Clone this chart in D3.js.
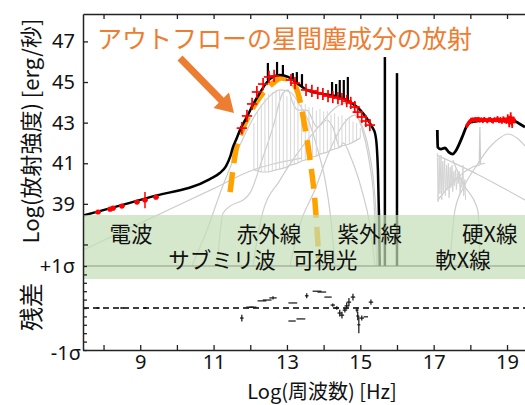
<!DOCTYPE html>
<html>
<head>
<meta charset="utf-8">
<script src="https://cdn.jsdelivr.net/npm/d3@7"></script>
<style>
  body { margin: 0; background: #fff; }
  svg { display: block; }
  text { font-family: 'Noto Sans', 'Noto Sans CJK JP', sans-serif; }
  .jp { font-family: 'Noto Sans CJK JP', 'Noto Sans', sans-serif; }
</style>
</head>
<body>
<svg id="chart" width="525" height="405"></svg>
<script>
// ---- axis ticks -------------------------------------------------------
const xTicks = [8, 9, 10, 11, 12, 13, 14, 15, 16, 17, 18, 19];
const xLabeled = [9, 11, 13, 15, 17, 19];
const yTicks = [37, 39, 41, 43, 45, 47];
const yLabeled = [39, 41, 43, 45, 47];
const resTicks = [-1, -0.8, -0.6, -0.4, -0.2, 0, 0.2, 0.4, 0.6, 0.8, 1];

// ---- wavebands (label, log frequency of label centre) -----------------
const bandTop = [["電波", 8.75], ["赤外線", 12.51], ["紫外線", 15.26], ["硬X線", 18.53]];
const bandBottom = [["サブミリ波", 11.23], ["可視光", 14.04], ["軟X線", 17.80]];

// ---- total SED model: [log nu, log L] ---------------------------------
const modelMain = [[7.44,38.42],[9.27,39.33],[10.90,40.22],[11.17,40.52],[11.34,40.86],[11.45,41.31],
  [11.53,41.80],[11.61,42.14],[11.72,42.64],[11.91,43.28],[12.07,43.87],[12.26,44.46],[12.46,45.00],
  [12.62,45.25],[12.81,45.34],[13.03,45.25],[13.27,44.95],[13.54,44.61],[13.82,44.46],[14.17,44.36],
  [14.44,44.26],[14.72,44.01],[14.91,43.77],[15.07,43.47],[15.26,42.98],[15.34,42.73],[15.40,42.49],
  [15.45,41.80],[15.48,40.67],[15.51,38.35],[15.53,35.94]];
const modelXray = [[17.10,42.64],[17.11,41.80],[17.20,41.70],[17.31,41.75],[17.41,41.55],[17.52,41.45],
  [17.60,41.60],[17.71,42.00],[17.80,42.39],[17.90,42.83],[18.01,43.03],[18.50,43.12],[19.00,43.12],
  [19.21,43.08],[19.35,42.93],[19.49,42.78]];

// emission lines on top of the model
const lineNu   = [12.48,12.73,12.89,13.16,13.27,13.41,14.23,14.34,14.44,14.55,14.66];
const lineTop  = [45.94,45.99,45.84,45.44,45.49,45.39,45.00,44.90,45.10,45.10,45.25];
const lineBase = [45.10,45.32,45.30,45.10,44.95,44.80,44.33,44.30,44.26,44.20,44.10];
const uvLineNu  = [15.67, 16.00];
const uvLineTop = [46.23, 45.44];

// outflow dust component
const outflowDust = [[11.45,39.58],[11.61,41.65],[11.75,42.49],[11.99,43.47],[12.26,44.26],[12.62,44.95],
  [12.84,45.20],[13.08,45.10],[13.30,44.46],[13.49,42.78],[13.63,41.16],[13.76,39.19],[13.87,36.33]];

// other model components (grey)
const compPowerLaw = [[7.44,36.72],[9.00,38.05],[11.00,39.75],[12.07,40.67],[12.60,40.95],[13.40,41.25]];
const compColdDust = [[10.41,35.94],[10.82,37.71],[11.26,39.93],[11.72,41.90],[12.13,43.37],[12.48,44.21],
  [12.81,44.61],[13.08,44.51],[13.35,43.87],[13.63,42.88],[13.84,41.65],[14.04,40.17],[14.20,38.20],[14.31,35.94]];
const compWarmDust = [[11.10,35.94],[11.26,38.55],[11.99,39.53],[12.32,41.16],[12.62,42.78],[12.89,44.46],
  [13.03,44.61],[13.16,43.97],[13.30,43.62],[13.54,43.62],[13.82,42.78],[14.09,43.13],[14.25,42.78],
  [14.44,41.80],[14.53,42.00],[14.77,41.16],[15.04,39.68],[15.26,37.96],[15.40,35.94]];
const compHotDust = [[12.07,35.94],[12.32,38.45],[12.81,40.17],[13.35,41.65],[13.90,42.88],[14.31,43.72],
  [14.63,43.97],[14.91,43.37],[15.13,42.14],[15.26,40.91],[15.37,39.19],[15.45,35.94]];
const compStars = [[13.08,35.94],[13.35,37.96],[13.76,39.68],[14.17,41.65],[14.58,43.03],[14.85,43.37],
  [15.04,42.88],[15.23,41.65],[15.37,39.93],[15.45,37.71],[15.48,35.94]];

// PAH / line template (grey hatching)
const pahNu  = [12.1,12.2,12.3,12.4,12.5,12.6,12.7,12.8,12.9,13.0,13.1,13.2,13.3,13.4,13.5,
                13.6,13.7,13.8,13.9,14.0,14.1,14.2,14.3,14.4,14.5,14.6,14.7,14.8,14.9,15.0];
const pahTop = [42.98,43.62,43.92,44.21,44.41,44.51,44.61,44.56,44.45,44.30,44.26,44.10,44.06,43.90,43.92,
                43.75,43.77,43.60,43.67,43.55,43.57,43.40,43.47,43.30,43.37,43.20,43.23,43.05,42.98,42.73];
const pahBase = [40.67,40.62,40.57,40.57,40.57,40.62,40.67,40.71,40.76,40.81,40.91,40.96,41.01,41.11,41.16,
                 41.21,41.31,41.35,41.45,41.50,41.55,41.65,41.70,41.75,41.85,41.90,41.95,42.04,42.14,42.24];

// X-ray components (grey)
const compXrayPL = [[17.09,41.40],[18.20,40.45],[19.49,39.19]];
const compXrayHump = [[17.44,35.94],[17.58,38.69],[17.85,39.93],[18.18,40.91],[18.53,41.80],[18.80,42.24],
  [19.02,42.44],[19.27,42.24],[19.49,41.85]];
const sxNu  = [17.10,17.15,17.20,17.25,17.30,17.35,17.40,17.45,17.50,17.55,17.60,17.65,17.70,17.75,17.80,17.85];
const sxTop = [41.50,41.30,41.40,41.10,41.20,40.90,41.00,40.80,40.90,40.60,40.70,40.50,40.60,40.30,40.90,40.20];
const sxBot = [39.10,39.50,39.20,39.60,39.40,39.70,39.30,39.80,39.60,39.90,39.70,40.00,39.50,39.80,39.40,39.20];
const compXrayReflect = [[17.11,39.19],[17.35,39.70],[17.60,40.20],[17.85,40.60],[18.10,40.85],[18.24,40.90],
  [18.26,42.78],[18.28,40.95],[18.40,41.00]];
const compXrayDrop = [[17.52,41.16],[17.80,40.00],[18.20,38.70],[18.25,37.20],[18.27,35.94]];

// ---- observations -----------------------------------------------------
const radioNu  = [7.85, 8.18, 8.26, 8.50, 8.91, 9.13, 9.43];
const radioL   = [38.60, 38.74, 38.79, 38.89, 39.09, 39.19, 39.33];
const radioErr = [0.03, 0.03, 0.03, 0.03, 0.03, 0.40, 0.03];

const irNu = [11.77,11.91,12.05,12.18,12.35,12.51,12.65,13.11,13.22,13.52,13.68,13.84,13.98,14.12,
              14.25,14.39,14.50,14.63,14.74,14.85,14.93,15.04,15.15,15.26];
const irL  = [42.73,43.33,43.92,44.51,44.90,45.25,45.30,45.10,44.95,44.61,44.56,44.46,44.41,44.31,
              44.26,44.21,44.16,44.06,43.97,43.77,43.52,43.28,43.08,42.88];

const xrNu = [17.90,17.94,17.98,18.02,18.06,18.10,18.14,18.18,18.22,18.26,18.30,18.34,18.38,18.42,18.46,18.50,
              18.54,18.58,18.62,18.66,18.70,18.74,18.78,18.82,18.86,18.90,18.94,18.98,19.02,19.06,19.10,19.14,19.18,19.21];
const xrL  = [42.83,42.95,43.05,43.12,43.15,43.13,43.17,43.14,43.18,43.12,43.15,43.10,43.16,43.13,43.09,43.14,
              43.17,43.11,43.08,43.15,43.12,43.18,43.10,43.14,43.07,43.16,43.12,43.09,43.19,43.05,43.21,43.02,43.15,43.08];
const xrErr = [0.10,0.10,0.10,0.12,0.10,0.12,0.10,0.12,0.10,0.12,0.10,0.12,0.12,0.10,0.12,0.12,
               0.10,0.12,0.12,0.12,0.10,0.14,0.12,0.14,0.12,0.15,0.14,0.15,0.22,0.28,0.30,0.28,0.15,0.12];

// residuals in units of sigma
const resNu  = [7.85,8.50,9.13,11.77,11.99,12.07,12.32,12.46,12.62,13.16,13.14,13.38,13.54,13.82,13.95,14.12,
                14.25,14.36,14.44,14.50,14.58,14.63,14.69,14.80,14.91,14.93,14.96,15.04,15.15,15.29];
const resVal = [0,0,0,-0.24,0.02,0.02,0.17,0.19,0.24,0.12,-0.31,-0.26,0.29,0.40,0.38,0.26,
                0.07,0.0,-0.12,-0.17,-0.05,0.05,0.14,0.26,-0.05,-0.19,-0.40,-0.24,-0.21,0.14];
const resNuErr = [0.05,0.05,0.05,0.05,0.10,0.10,0.12,0.12,0.10,0.12,0.10,0.12,0.05,0.12,0.12,0.10,
                  0.06,0.06,0.06,0.06,0.06,0.06,0.06,0.06,0.04,0.04,0.04,0.06,0.06,0.06];
const resValErr = [0.02,0.02,0.02,0.08,0.0,0.0,0.0,0.0,0.04,0.0,0.0,0.0,0.06,0.0,0.0,0.0,
                   0.04,0.04,0.08,0.08,0.06,0.08,0.10,0.08,0.06,0.10,0.20,0.06,0.0,0.06];

// ---- scales -----------------------------------------------------------
const svg = d3.select('#chart');
const x  = d3.scaleLinear().domain([7.44, 19.49]).range([83, 525]);
const y  = d3.scaleLinear().domain([35.94, 48.35]).range([266, 14]);
const yr = d3.scaleLinear().domain([-1, 1]).range([350, 266]);

const smooth = d3.line().x(d => x(d[0])).y(d => y(d[1])).curve(d3.curveMonotoneX);
const straight = d3.line().x(d => x(d[0])).y(d => y(d[1]));

svg.append('clipPath').attr('id', 'mainClip')
  .append('rect').attr('x', 83).attr('y', 14).attr('width', 442).attr('height', 252);

const main = svg.append('g').attr('clip-path', 'url(#mainClip)');

// grey model components
const grey = main.append('g').attr('fill', 'none').attr('stroke', '#cdcdcd').attr('stroke-width', 1.2);
[compPowerLaw, compColdDust, compWarmDust, compHotDust, compStars, compXrayPL, compXrayHump, compXrayDrop]
  .forEach(c => grey.append('path').attr('d', smooth(c)));
grey.append('path').attr('d', straight(compXrayReflect));
pahNu.forEach((n, i) => grey.append('line').attr('stroke', '#d6d6d6')
  .attr('x1', x(n)).attr('x2', x(n)).attr('y1', y(pahBase[i])).attr('y2', y(pahTop[i])).attr('stroke-width', 1));
grey.append('path').attr('d', straight(pahNu.map((n, i) => [n, pahBase[i]])));
const sxZig = [];
sxNu.forEach((n, i) => { sxZig.push([n, sxTop[i]]); sxZig.push([n + 0.02, sxBot[i]]); });
grey.append('path').attr('d', straight(sxZig)).attr('stroke', '#d3d3d3').attr('stroke-width', 1);

// outflow dust component
main.append('path').attr('d', smooth(outflowDust)).attr('fill', 'none')
  .attr('stroke', '#ffa200').attr('stroke-width', 5.5).attr('stroke-dasharray', '20,9');

// total model
const black = main.append('g').attr('fill', 'none').attr('stroke', '#000');
black.append('path').attr('d', smooth(modelMain)).attr('stroke-width', 2.5);
black.append('path').attr('d', smooth(modelXray)).attr('stroke-width', 2.8);
lineNu.forEach((n, i) => black.append('line').attr('stroke-width', 2.2)
  .attr('x1', x(n)).attr('x2', x(n)).attr('y1', y(lineBase[i])).attr('y2', y(lineTop[i])));
uvLineNu.forEach((n, i) => black.append('line').attr('stroke-width', 2.5)
  .attr('x1', x(n)).attr('x2', x(n)).attr('y1', y(35.94)).attr('y2', y(uvLineTop[i])));

// observed points
const red = main.append('g').attr('stroke', '#ff0000').attr('fill', '#ff0000');
radioNu.forEach((n, i) => {
  red.append('circle').attr('cx', x(n)).attr('cy', y(radioL[i])).attr('r', 2.6).attr('stroke', 'none');
  red.append('line').attr('stroke-width', 1.5)
    .attr('x1', x(n - 0.08)).attr('x2', x(n + 0.08)).attr('y1', y(radioL[i])).attr('y2', y(radioL[i]));
  red.append('line').attr('stroke-width', 1.5)
    .attr('x1', x(n)).attr('x2', x(n)).attr('y1', y(radioL[i] - radioErr[i])).attr('y2', y(radioL[i] + radioErr[i]));
});
irNu.forEach((n, i) => {
  red.append('line').attr('stroke-width', 1.7)
    .attr('x1', x(n - 0.14)).attr('x2', x(n + 0.14)).attr('y1', y(irL[i])).attr('y2', y(irL[i]));
  red.append('line').attr('stroke-width', 1.7)
    .attr('x1', x(n)).attr('x2', x(n)).attr('y1', y(irL[i] - 0.3)).attr('y2', y(irL[i] + 0.3));
});
red.append('path').attr('d', straight(xrNu.map((n, i) => [n, xrL[i]]))).attr('fill', 'none').attr('stroke-width', 3.5);
xrNu.forEach((n, i) => red.append('line').attr('stroke-width', 1.8)
  .attr('x1', x(n)).attr('x2', x(n)).attr('y1', y(xrL[i] - xrErr[i])).attr('y2', y(xrL[i] + xrErr[i])));

// waveband strip
svg.append('rect').attr('x', 83).attr('y', 215).attr('width', 442).attr('height', 64)
  .attr('fill', 'rgb(196,222,181)').attr('fill-opacity', 0.7);
svg.append('line').attr('x1', 83).attr('x2', 525).attr('y1', yr(1)).attr('y2', yr(1))
  .attr('stroke', '#8f9a8c').attr('stroke-width', 1.2);
svg.append('g').selectAll('text').data(bandTop).join('text').attr('class', 'jp')
  .attr('x', d => x(d[1])).attr('y', 242).attr('text-anchor', 'middle')
  .attr('font-size', 21.5).attr('fill', '#111').text(d => d[0]);
svg.append('g').selectAll('text').data(bandBottom).join('text').attr('class', 'jp')
  .attr('x', d => x(d[1])).attr('y', 268).attr('text-anchor', 'middle')
  .attr('font-size', 21.5).attr('fill', '#111').text(d => d[0]);

// residual panel
svg.append('line').attr('x1', 83).attr('x2', 525).attr('y1', yr(0)).attr('y2', yr(0))
  .attr('stroke', '#000').attr('stroke-width', 1.5).attr('stroke-dasharray', '6,4');
const res = svg.append('g').attr('stroke', '#111').attr('stroke-width', 1.2);
resNu.forEach((n, i) => {
  res.append('line').attr('x1', x(n - resNuErr[i])).attr('x2', x(n + resNuErr[i]))
    .attr('y1', yr(resVal[i])).attr('y2', yr(resVal[i]));
  if (resValErr[i] > 0) res.append('line').attr('x1', x(n)).attr('x2', x(n))
    .attr('y1', yr(resVal[i] - resValErr[i])).attr('y2', yr(resVal[i] + resValErr[i]));
});

// axes
function styleAxis(g, size) {
  g.selectAll('path').attr('stroke', '#222').attr('stroke-width', 1.5);
  g.selectAll('line').attr('stroke', '#222').attr('stroke-width', 1.3);
  g.selectAll('text').attr('font-size', size).attr('fill', '#111');
}
svg.append('g').attr('transform', 'translate(0,350)')
  .call(d3.axisBottom(x).tickValues(xTicks).tickSizeInner(-5).tickSizeOuter(0).tickPadding(5)
    .tickFormat(d => xLabeled.includes(d) ? d : ''))
  .call(g => styleAxis(g, 20));
svg.append('g').attr('transform', 'translate(0,14)')
  .call(d3.axisTop(x).tickValues(xTicks).tickSizeInner(-5).tickSizeOuter(0).tickFormat(''))
  .call(g => styleAxis(g, 20));
svg.append('g').attr('transform', 'translate(83,0)')
  .call(d3.axisLeft(y).tickValues(yTicks).tickSizeInner(-5).tickSizeOuter(0).tickPadding(8)
    .tickFormat(d => yLabeled.includes(d) ? d : ''))
  .call(g => styleAxis(g, 20));
svg.append('g').attr('transform', 'translate(83,0)')
  .call(d3.axisLeft(yr).tickValues(resTicks).tickSizeInner(-4).tickSizeOuter(0).tickPadding(8)
    .tickFormat(d => d === 1 ? '+1σ' : d === -1 ? '-1σ' : ''))
  .call(g => styleAxis(g, 20))
  .call(g => g.selectAll('.tick').filter(d => d === -1).select('text').attr('x', -2).attr('dy', '0.45em'));

// axis titles
svg.append('text').attr('class', 'jp').attr('transform', 'translate(29,131) rotate(-90)')
  .attr('text-anchor', 'middle').attr('dominant-baseline', 'central')
  .attr('font-size', 22).attr('fill', '#111').text('Log(放射強度)  [erg/秒]');
svg.append('text').attr('class', 'jp').attr('transform', 'translate(29,307) rotate(-90)')
  .attr('text-anchor', 'middle').attr('dominant-baseline', 'central')
  .attr('font-size', 24).attr('fill', '#111').text('残差');
svg.append('text').attr('class', 'jp').attr('x', 322).attr('y', 399).attr('text-anchor', 'middle')
  .attr('font-size', 20).attr('fill', '#111').text('Log(周波数) [Hz]');

// annotation for the outflow dust component
const note = svg.append('g').attr('fill', '#ed7d31');
note.append('text').attr('class', 'jp').attr('x', 97).attr('y', 48).attr('font-size', 25)
  .text('アウトフローの星間塵成分の放射');
note.append('line').attr('x1', 180).attr('y1', 58).attr('x2', 222).attr('y2', 101)
  .attr('stroke', '#ed7d31').attr('stroke-width', 7);
note.append('path').attr('d', 'M234,113 L213.5,108 L229,92.5 Z');
</script>
</body>
</html>
